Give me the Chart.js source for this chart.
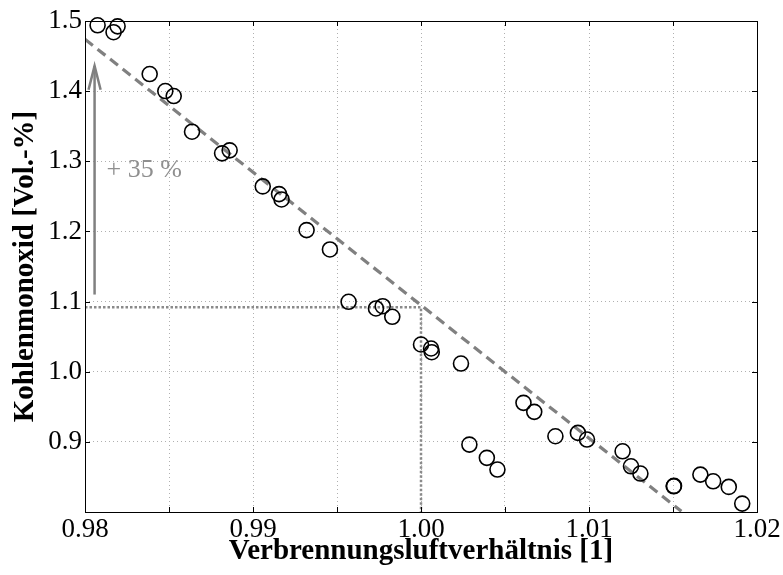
<!DOCTYPE html>
<html>
<head>
<meta charset="utf-8">
<script src="https://cdn.jsdelivr.net/npm/chart.js@4"></script>
<style>
html,body{margin:0;padding:0;background:#fff;}
#wrap{width:783px;height:575px;position:relative;}
</style>
</head>
<body>
<div id="wrap"><canvas id="c" width="783" height="575"></canvas></div>
<script>
// Measured points: lambda (x) vs CO [Vol.-%] (y)
const lambdaValues = [0.98075,0.98170,0.98194,0.98385,0.98478,0.98528,0.98637,0.98816,0.98861,0.99058,0.99155,0.99170,0.99319,0.99458,0.99569,0.99732,0.99772,0.99829,1.00000,1.00060,1.00064,1.00238,1.00288,1.00392,1.00455,1.00610,1.00674,1.00800,1.00934,1.00988,1.01200,1.01250,1.01306,1.01504,1.01506,1.01663,1.01739,1.01832,1.01912];
const coValues     = [1.4939,1.4840,1.4924,1.4244,1.4001,1.3930,1.3422,1.3113,1.3156,1.2642,1.2532,1.2456,1.2019,1.1743,1.0997,1.0902,1.0934,1.0783,1.0388,1.0331,1.0278,1.0117,0.8961,0.8772,0.8605,0.9556,0.9428,0.9080,0.9128,0.9033,0.8866,0.8652,0.8548,0.8367,0.8372,0.8533,0.8438,0.8358,0.8120];
// Trend line (dashed)
const trendX = [0.98, 1.0155];
const trendY = [1.474, 0.801];
// Reference lines (dotted) at lambda = 1
const refX = [0.98, 1.00, 1.00];
const refY = [1.092, 1.092, 0.80];
// Arrow "+35 %"
const arrowX = [0.98057, 0.98057];
const arrowY = [1.110, 1.436];
const arrowHeadX = [0.98021, 0.98057, 0.98093];
const arrowHeadY = [1.402, 1.436, 1.402];
const annotationText = "+ 35 %";
const annotationPos = [0.98128, 1.288];
// Axes
const xRange = [0.98, 1.02];
const yRange = [0.80, 1.50];
const xTickStep = 0.005;
const yTickStep = 0.1;
const xTitle = "Verbrennungsluftverhältnis [1]";
const yTitle = "Kohlenmonoxid [Vol.-%]";

const pts = (xs, ys) => xs.map((x, i) => ({x: x, y: ys[i]}));
const FONT = "'Liberation Serif','Times New Roman',serif";

const framePlugin = {
  id: 'frame',
  afterDatasetsDraw(chart) {
    const {ctx, chartArea: a, scales} = chart;
    ctx.save();
    ctx.strokeStyle = '#000';
    ctx.lineWidth = 1;
    ctx.strokeRect(Math.round(a.left) + 0.5, Math.round(a.top) + 0.5, Math.round(a.right - a.left), Math.round(a.bottom - a.top));
    const tl = 5;
    ctx.beginPath();
    scales.x.ticks.forEach(t => {
      const px = Math.round(scales.x.getPixelForValue(t.value)) + 0.5;
      ctx.moveTo(px, a.bottom); ctx.lineTo(px, a.bottom - tl);
      ctx.moveTo(px, a.top); ctx.lineTo(px, a.top + tl);
    });
    scales.y.ticks.forEach(t => {
      const py = Math.round(scales.y.getPixelForValue(t.value)) + 0.5;
      ctx.moveTo(a.left, py); ctx.lineTo(a.left + tl, py);
      ctx.moveTo(a.right, py); ctx.lineTo(a.right - tl, py);
    });
    ctx.stroke();
    // annotation text
    ctx.fillStyle = '#8f8f8f';
    ctx.font = "26px " + FONT;
    ctx.textAlign = 'left';
    ctx.textBaseline = 'middle';
    ctx.fillText(annotationText, scales.x.getPixelForValue(annotationPos[0]), scales.y.getPixelForValue(annotationPos[1]));
    ctx.restore();
  }
};

new Chart(document.getElementById('c'), {
  type: 'scatter',
  data: {
    datasets: [
      {data: pts(refX, refY), showLine: true, borderColor: '#8a8a8a', borderWidth: 2.5, borderDash: [2.5, 2], pointRadius: 0, fill: false, order: 5},
      {data: pts(trendX, trendY), showLine: true, borderColor: '#808080', borderWidth: 3.2, borderDash: [10, 6], pointRadius: 0, fill: false, order: 4},
      {data: pts(arrowX, arrowY), showLine: true, borderColor: '#808080', borderWidth: 2.5, pointRadius: 0, fill: false, order: 3},
      {data: pts(arrowHeadX, arrowHeadY), showLine: true, borderColor: '#808080', borderWidth: 2.5, pointRadius: 0, fill: false, order: 3},
      {data: pts(lambdaValues, coValues), showLine: false, clip: false, pointStyle: 'circle', pointRadius: 7.5, pointBorderWidth: 1.6, pointBorderColor: '#000', pointBackgroundColor: 'rgba(0,0,0,0)', order: 1}
    ]
  },
  options: {
    responsive: false,
    animation: false,
    devicePixelRatio: 1,
    layout: {padding: {top: 21, right: 26, left: 0, bottom: 0}},
    plugins: {legend: {display: false}, tooltip: {enabled: false}},
    scales: {
      x: {
        type: 'linear', min: xRange[0], max: xRange[1],
        border: {display: false, dash: [1, 3]},
        grid: {color: '#b0b0b0', lineWidth: 1, drawTicks: false},
        ticks: {stepSize: xTickStep, padding: 2, color: '#000', font: {family: FONT, size: 27}, maxRotation: 0, autoSkip: false,
          callback: v => (Math.abs(v * 100 - Math.round(v * 100)) < 1e-6) ? v.toFixed(2) : ''},
        title: {display: true, text: xTitle, color: '#000', font: {family: FONT, size: 29, weight: 'bold'}, padding: {top: 0, bottom: 6}},
        afterFit: s => { s.height = 63; }
      },
      y: {
        type: 'linear', min: yRange[0], max: yRange[1],
        border: {display: false, dash: [1, 3]},
        grid: {color: '#b0b0b0', lineWidth: 1, drawTicks: false},
        ticks: {stepSize: yTickStep, padding: 3, color: '#000', font: {family: FONT, size: 27},
          callback: v => (Math.abs(v - 0.8) < 1e-6) ? '' : v.toFixed(1)},
        title: {display: true, text: yTitle, color: '#000', font: {family: FONT, size: 29, weight: 'bold'}, padding: {top: 8, bottom: 0}},
        afterFit: s => { s.width = 85; }
      }
    }
  },
  plugins: [framePlugin]
});
</script>
</body>
</html>
